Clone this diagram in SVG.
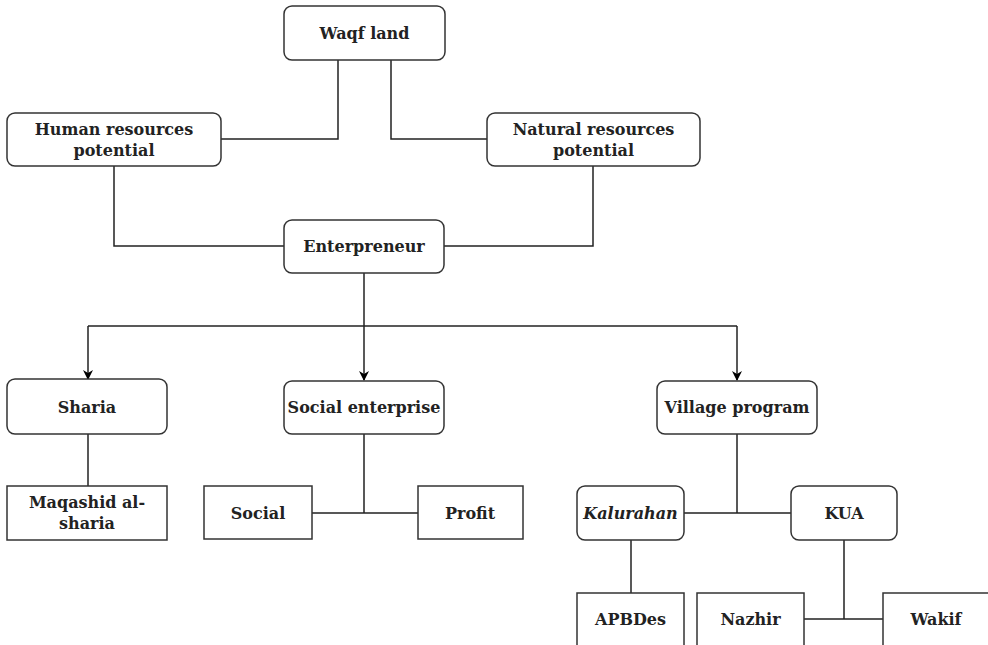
<svg xmlns="http://www.w3.org/2000/svg" width="988" height="645" viewBox="0 0 988 645">
<style>
.b{fill:#fff;stroke:#333;stroke-width:1.5}
.t{font-family:"DejaVu Serif","Liberation Serif",serif;font-weight:bold;font-size:16px;fill:#222;text-anchor:middle;dominant-baseline:central}
.i{font-style:italic}
.c{fill:none;stroke:#222;stroke-width:1.5}
</style>
<defs>
<marker id="a" viewBox="0 0 10 10" refX="9" refY="5" markerWidth="10" markerHeight="10" markerUnits="userSpaceOnUse" orient="auto">
<path d="M0,0 L10,5 L0,10 L3,5 z" fill="#000"/>
</marker>
</defs>
<rect width="988" height="645" fill="#fff"/>
<g id="connectors">
<path class="c" d="M338,60 V139 H221"/>
<path class="c" d="M391,60 V139 H487"/>
<path class="c" d="M114,166 V246 H284"/>
<path class="c" d="M593,166 V246 H444"/>
<path class="c" d="M364,273 V326"/>
<path class="c" d="M88,326 H737"/>
<path class="c" d="M88,326 V379" marker-end="url(#a)"/>
<path class="c" d="M364,326 V380" marker-end="url(#a)"/>
<path class="c" d="M737,326 V380" marker-end="url(#a)"/>
<path class="c" d="M88,434 V486"/>
<path class="c" d="M364,434 V513 M312,513 H418"/>
<path class="c" d="M737,434 V513 M684,513 H791"/>
<path class="c" d="M631,540 V593"/>
<path class="c" d="M844,540 V619 M804,619 H883"/>
</g>
<g id="waqf"><rect class="b" x="284" y="6" width="161" height="54" rx="8"/><text class="t" x="364.5" y="33">Waqf land</text></g>
<g id="human"><rect class="b" x="7" y="113" width="214" height="53" rx="8"/><text class="t" x="114" y="129.5">Human resources</text><text class="t" x="114" y="150">potential</text></g>
<g id="natural"><rect class="b" x="487" y="113" width="213" height="53" rx="8"/><text class="t" x="593.5" y="129.5">Natural resources</text><text class="t" x="593.5" y="150">potential</text></g>
<g id="enterpreneur"><rect class="b" x="284" y="220" width="160" height="53" rx="8"/><text class="t" x="364" y="246.5">Enterpreneur</text></g>
<g id="sharia"><rect class="b" x="7" y="379" width="160" height="55" rx="8"/><text class="t" x="87" y="407">Sharia</text></g>
<g id="social-enterprise"><rect class="b" x="284" y="381" width="160" height="53" rx="8"/><text class="t" x="364" y="407">Social enterprise</text></g>
<g id="village"><rect class="b" x="657" y="381" width="160" height="53" rx="8"/><text class="t" x="737" y="407">Village program</text></g>
<g id="maqashid"><rect class="b" x="7" y="486" width="160" height="54"/><text class="t" x="87" y="502.5">Maqashid al-</text><text class="t" x="87" y="523">sharia</text></g>
<g id="social"><rect class="b" x="204" y="486" width="108" height="53"/><text class="t" x="258" y="513">Social</text></g>
<g id="profit"><rect class="b" x="418" y="486" width="105" height="53"/><text class="t" x="470" y="513">Profit</text></g>
<g id="kalurahan"><rect class="b" x="577" y="486" width="107" height="54" rx="8"/><text class="t i" x="630.5" y="513">Kalurahan</text></g>
<g id="kua"><rect class="b" x="791" y="486" width="106" height="54" rx="8"/><text class="t" x="844" y="513">KUA</text></g>
<g id="apbdes"><rect class="b" x="577" y="593" width="107" height="60"/><text class="t" x="630.5" y="619">APBDes</text></g>
<g id="nazhir"><rect class="b" x="697" y="593" width="107" height="60"/><text class="t" x="750.5" y="619">Nazhir</text></g>
<g id="wakif"><rect class="b" x="883" y="593" width="110" height="60"/><text class="t" x="936" y="619">Wakif</text></g>
</svg>
